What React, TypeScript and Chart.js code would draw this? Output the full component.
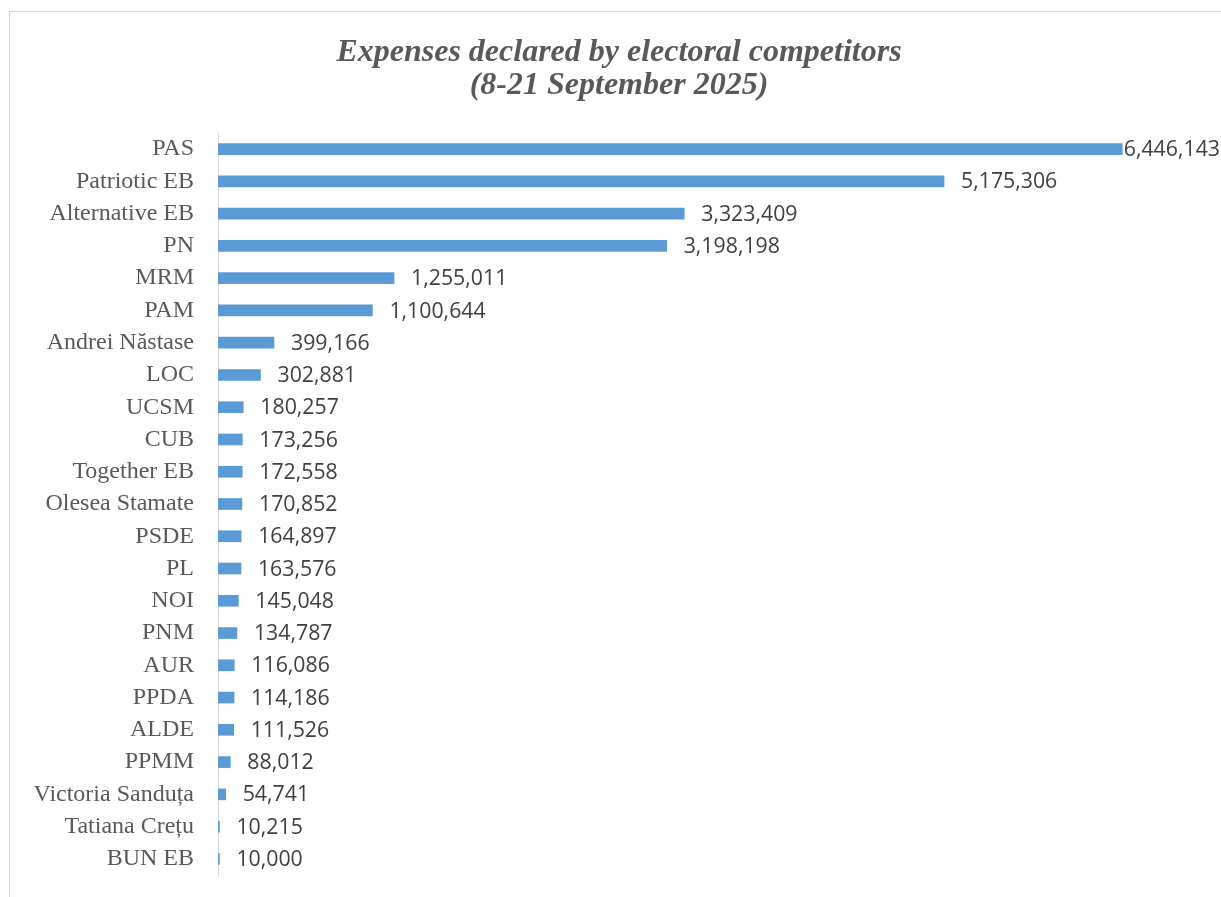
import React, { useEffect, useRef } from "react";
import { Chart, registerables } from "chart.js";

Chart.register(...registerables);

const categories = [
  "PAS", "Patriotic EB", "Alternative EB", "PN", "MRM", "PAM", "Andrei Năstase", "LOC",
  "UCSM", "CUB", "Together EB", "Olesea Stamate", "PSDE", "PL", "NOI", "PNM", "AUR",
  "PPDA", "ALDE", "PPMM", "Victoria Sanduța", "Tatiana Crețu", "BUN EB",
];
const expenses = [
  6446143, 5175306, 3323409, 3198198, 1255011, 1100644, 399166, 302881,
  180257, 173256, 172558, 170852, 164897, 163576, 145048, 134787, 116086,
  114186, 111526, 88012, 54741, 10215, 10000,
];
const titleLines = ["Expenses declared by electoral competitors", "(8-21 September 2025)"];

export default function App() {
  const ref = useRef<HTMLCanvasElement | null>(null);
  useEffect(() => {
    if (!ref.current) return;
    const framePlugin = {
      id: "frame",
      beforeDraw(chart: any) {
        const ctx = chart.ctx;
        ctx.save();
        ctx.fillStyle = "#ffffff";
        ctx.fillRect(0, 0, chart.width, chart.height);
        ctx.strokeStyle = "#d9d9d9";
        ctx.lineWidth = 1;
        ctx.strokeRect(9.5, 11.5, 3000, 3000);
        ctx.fillStyle = "#595959";
        ctx.font = "italic bold 32px 'Liberation Serif'";
        ctx.textAlign = "center";
        ctx.textBaseline = "alphabetic";
        ctx.fillText(titleLines[0], 619, 61);
        ctx.fillText(titleLines[1], 619, 94);
        ctx.restore();
      },
      afterDatasetsDraw(chart: any) {
        const ctx = chart.ctx;
        const meta = chart.getDatasetMeta(0);
        ctx.save();
        ctx.font = "21.3px 'Open Sans'";
        ctx.fillStyle = "#404040";
        ctx.textAlign = "left";
        ctx.textBaseline = "middle";
        meta.data.forEach((bar: any, i: number) => {
          const txt = expenses[i].toLocaleString("en-US");
          const w = ctx.measureText(txt).width;
          const x = Math.min(bar.x + 17, chart.width - w - 1);
          ctx.fillText(txt, x, bar.y + 1);
        });
        ctx.restore();
      },
    };
    const chart = new Chart(ref.current, {
      type: "bar",
      data: {
        labels: categories,
        datasets: [
          {
            data: expenses,
            backgroundColor: "#5B9BD5",
            barThickness: 11,
          },
        ],
      },
      options: {
        indexAxis: "y",
        animation: false,
        responsive: true,
        maintainAspectRatio: false,
        layout: { padding: { left: 10, top: 133, right: 21, bottom: 22 } },
        plugins: {
          legend: { display: false },
          title: { display: false },
          tooltip: { enabled: false },
        },
        scales: {
          x: { display: false, min: 0, max: 7000000 },
          y: {
            afterFit(scale: any) {
              scale.width = 208;
              scale.paddingTop = 0;
              scale.paddingBottom = 0;
            },
            grid: { display: false, drawTicks: false },
            border: { display: true, color: "#d9d9d9", width: 1 },
            ticks: {
              padding: 24,
              color: "#595959",
              font: { family: "'Liberation Serif'", size: 24 },
              autoSkip: false,
            },
          },
        },
      },
      plugins: [framePlugin],
    });
    return () => chart.destroy();
  }, []);
  return (
    <div style={{ position: "fixed", left: 0, top: 0, width: 1221, height: 897 }}>
      <canvas ref={ref} />
    </div>
  );
}
